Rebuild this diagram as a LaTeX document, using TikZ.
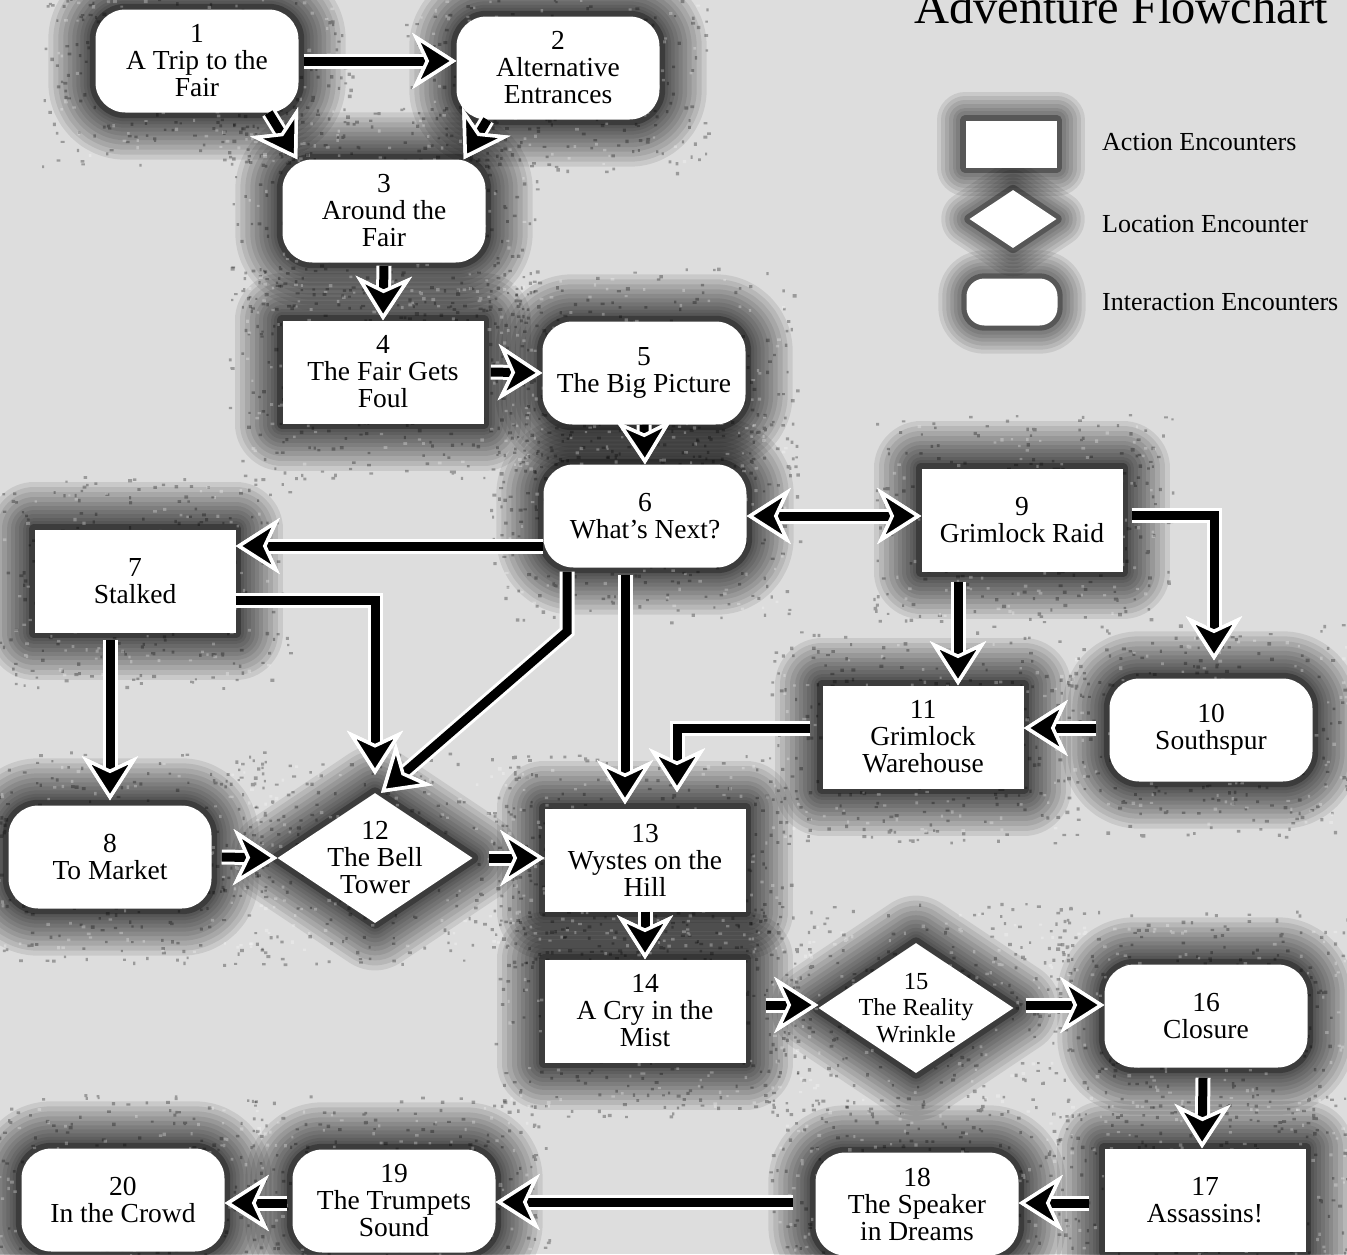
\documentclass[tikz,border=0pt]{standalone}
\usepackage{fontspec}
\setmainfont{Liberation Serif}
\usetikzlibrary{arrows.meta,shapes.geometric,calc}
\pgfdeclarelayer{bg}
\pgfsetlayers{bg,main}
\definecolor{bgc}{RGB}{221,221,221}
\tikzset{
  every node/.style={font=\fontsize{27.5}{27}\selectfont, align=center, inner sep=0pt},
  act/.style={rectangle, fill=white, minimum width=201pt, minimum height=103pt},
  inter/.style={rectangle, rounded corners=30pt, fill=white, minimum width=203pt, minimum height=103pt},
  loc/.style={diamond, fill=white, minimum width=195pt, minimum height=130pt, inner sep=-45pt},
  >={Stealth[length=44pt,width=56pt,inset=13pt,color=white,fill=black,line width=3.5pt]},
  flow/.style={draw=black, line width=9pt, ->, preaction={draw=white, line width=15pt}},
  flowboth/.style={draw=black, line width=9pt, <->, preaction={draw=white, line width=15pt}},
  hl/.style={preaction={draw=black, line join=round, line width=#1, opacity=0.085}},
  halo/.style={hl=94pt, hl=84pt, hl=74pt, hl=64pt, hl=55pt, hl=46pt, hl=38pt, hl=30pt, hl=23pt, hl=17pt,
    draw=black, line join=round, line width=11pt, opacity=0.3},
  smallhalo/.style={hl=56pt, hl=48pt, hl=40pt, hl=32pt, hl=25pt, hl=18pt,
    draw=black, line join=round, line width=10pt, opacity=0.3},
  speck/.style={fill=black, opacity=0.3},
  lspeck/.style={fill=white, opacity=0.28}
}
\begin{document}
\begin{tikzpicture}[x=1pt,y=-1pt]
\useasboundingbox (0,0) rectangle (1347,1254);
% title
\node[font=\fontsize{48.5}{50}\selectfont, anchor=base west] (title) at (914,23) {Adventure Flowchart};
% legend
\node[act, minimum width=91pt, minimum height=47pt] (la) at (1011,144) {};
\node[loc, minimum width=87pt, minimum height=58pt] (ll) at (1013,219) {};
\node[inter, rounded corners=18pt, minimum width=91pt, minimum height=47pt] (li) at (1012,302) {};
\node[anchor=base west, font=\fontsize{26}{27}\selectfont] (lta) at (1102,150) {Action Encounters};
\node[anchor=base west, font=\fontsize{26}{27}\selectfont] (ltl) at (1102,232) {Location Encounter};
\node[anchor=base west, font=\fontsize{26}{27}\selectfont] (lti) at (1102,310) {Interaction Encounters};
% nodes
\node[inter] (n1) at (197,61) {1\\A Trip to the\\Fair};
\node[inter] (n2) at (558,68) {2\\Alternative\\Entrances};
\node[inter] (n3) at (384,211) {3\\Around the\\Fair};
\node[act] (n4) at (383,372) {4\\The Fair Gets\\Foul};
\node[inter] (n5) at (644,373) {5\\The Big Picture};
\node[inter] (n6) at (645,516) {6\\What’s Next?};
\node[act] (n7) at (135,581) {7\\Stalked};
\node[inter] (n8) at (110,857) {8\\To Market};
\node[act] (n9) at (1022,520) {9\\Grimlock Raid};
\node[inter] (n10) at (1211,730) {10\\Southspur};
\node[act] (n11) at (923,737) {11\\Grimlock\\Warehouse};
\node[loc] (n12) at (375,858) {12\\The Bell\\Tower};
\node[act] (n13) at (645,860) {13\\Wystes on the\\Hill};
\node[act] (n14) at (645,1011) {14\\A Cry in the\\Mist};
\node[loc, font=\fontsize{24.5}{26.5}\selectfont] (n15) at (916,1008) {15\\The Reality\\Wrinkle};
\node[inter] (n16) at (1206,1016) {16\\Closure};
\node[act] (n17) at (1205,1200) {17\\Assassins!};
\node[inter] (n18) at (917,1204) {18\\The Speaker\\in Dreams};
\node[inter] (n19) at (394,1201) {19\\The Trumpets\\Sound};
\node[inter] (n20) at (123,1200) {20\\In the Crowd};
% background and halos
\begin{pgfonlayer}{bg}
\fill[bgc] (0,0) rectangle (1347,1254);
\foreach \n in {n4,n7,n9,n11,n13,n14,n17}
  \path[halo] (\n.north west) rectangle (\n.south east);
\foreach \n in {n1,n2,n3,n5,n6,n8,n10,n16,n18,n19,n20}
  \path[halo, rounded corners=30pt] (\n.north west) rectangle (\n.south east);
\foreach \n in {n12,n15}
  \path[halo] (\n.north) -- (\n.east) -- (\n.south) -- (\n.west) -- cycle;
\path[smallhalo] (la.north west) rectangle (la.south east);
\path[smallhalo] (ll.north) -- (ll.east) -- (ll.south) -- (ll.west) -- cycle;
\path[smallhalo, rounded corners=18pt] (li.north west) rectangle (li.south east);
% speckle texture
\pgfmathsetseed{4242}
\foreach \n in {n1,n2,n3,n4,n5,n6,n7,n8,n9,n10,n11,n12,n13,n14,n15,n16,n17,n18,n19,n20}{
  \fill[speck] \foreach \k in {1,...,250}{ ($(\n.center)+({rand*155},{rand*106})$) rectangle +({2+2*rnd},{2+1.5*rnd}) };
  \fill[lspeck] \foreach \k in {1,...,110}{ ($(\n.center)+({rand*140},{rand*95})$) rectangle +({2+1.8*rnd},{2+1.4*rnd}) };
}
\end{pgfonlayer}
% connectors
\draw[flow] ([xshift=5pt]n1.east) -- (n1.east -| n2.west);
\draw[flow] ([xshift=-30pt]n1.south east) -- ([xshift=15pt]n3.north west);
\draw[flow] ([xshift=31pt]n2.south west) -- ([xshift=-22pt]n3.north east);
\draw[flow] ([yshift=-3pt]n3.south) -- (n4.north);
\draw[flow] ([xshift=7pt]n4.east) -- (n5.west);
\draw[flow] (n5.south) -- (n6.north);
\draw[flowboth] (n6.east) -- (n6.east -| n9.west);
\draw[flow] ([yshift=-30pt]n6.west) -- ([yshift=-30pt]n6.west -| n7.east);
\draw[flow] ([yshift=-19pt]n7.east) -| ([yshift=18pt]n12.north);
\draw[flow] ([xshift=-78pt,yshift=-4pt]n6.south) -- ++(0,60) -- ([xshift=6pt]n12.north);
\draw[flow] ([xshift=-20pt,yshift=-7pt]n6.south) -- ([xshift=-20pt,yshift=4pt]n6.south |- n13.north);
\draw[flow] ([xshift=-12pt,yshift=9pt]n11.west) -| ([xshift=32pt,yshift=16pt]n13.north);
\draw[flow] ([xshift=-25pt,yshift=-7pt]n7.south) -- ([yshift=5pt]n8.north);
\draw[flow] ([xshift=10pt]n8.east) -- (n12.west);
\draw[flow] ([xshift=16pt]n12.east) -- (n12.east -| n13.west);
\draw[flow] (n13.south) -- (n14.north);
\draw[flow] ([xshift=20pt,yshift=6pt]n14.east) -- ([yshift=3pt]n15.west);
\draw[flow] ([xshift=12pt,yshift=3pt]n15.east) -- ([yshift=3pt]n15.east -| n16.west);
\draw[flow] ([xshift=-3pt,yshift=-10pt]n16.south) -- ([xshift=-3pt]n17.north);
\draw[flow] ([xshift=-15pt,yshift=-3pt]n17.west) -- ([yshift=-3pt]n17.west -| n18.east);
\draw[flow] ([xshift=-22pt,yshift=2pt]n18.west) -- ([yshift=2pt]n18.west -| n19.east);
\draw[flow] ([xshift=-5pt,yshift=-2pt]n19.west) -- ([yshift=-2pt]n19.west -| n20.east);
\draw[flow] ([xshift=-64pt,yshift=-10pt]n9.south) -- ([xshift=-64pt]n9.south |- n11.north);
\draw[flow] ([xshift=9pt,yshift=5pt]n9.east) -| ([xshift=3pt,yshift=18pt]n10.north);
\draw[flow] ([xshift=-13pt,yshift=2pt]n10.west) -- ([yshift=2pt]n10.west -| n11.east);
\end{tikzpicture}
\end{document}
